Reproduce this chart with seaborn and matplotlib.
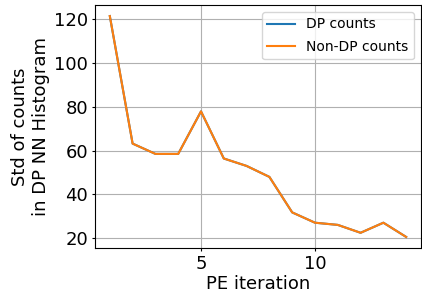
import matplotlib
matplotlib.use("Agg")
import matplotlib.pyplot as plt
import pandas as pd
import seaborn as sns

iterations = list(range(1, 15))
dp_counts = [121.4, 63.2, 58.5, 58.5, 77.9, 56.4, 53.0, 48.0, 31.8, 27.1, 26.1, 22.5, 27.1, 20.6]
non_dp_counts = [121.4, 63.2, 58.5, 58.5, 77.9, 56.4, 53.0, 48.0, 31.8, 27.1, 26.1, 22.5, 27.1, 20.6]

df = pd.DataFrame({
    "PE iteration": iterations * 2,
    "std": dp_counts + non_dp_counts,
    "series": ["DP counts"] * len(iterations) + ["Non-DP counts"] * len(iterations),
})

fig = plt.figure(figsize=(4.22, 2.97), dpi=100)
ax = fig.add_axes([95 / 422, 1 - 248 / 297, 326 / 422, 243 / 297])

sns.lineplot(data=df, x="PE iteration", y="std", hue="series",
             palette=["#1f77b4", "#ff7f0e"], ax=ax, linewidth=1.5)

ax.grid(True, color="#b0b0b0", linewidth=0.8)
ax.set_xticks([5, 10])
ax.set_yticks([20, 40, 60, 80, 100, 120])
ax.tick_params(labelsize=13, length=2.5, pad=2.5)
ax.set_xlabel("PE iteration", fontsize=13, labelpad=1.5)
ax.set_ylabel("Std of counts\nin DP NN Histogram", fontsize=13, labelpad=3)
ax.legend(title=None, fontsize=10, loc="upper right", labelspacing=0.6)

fig.savefig("out.png", dpi=100)
